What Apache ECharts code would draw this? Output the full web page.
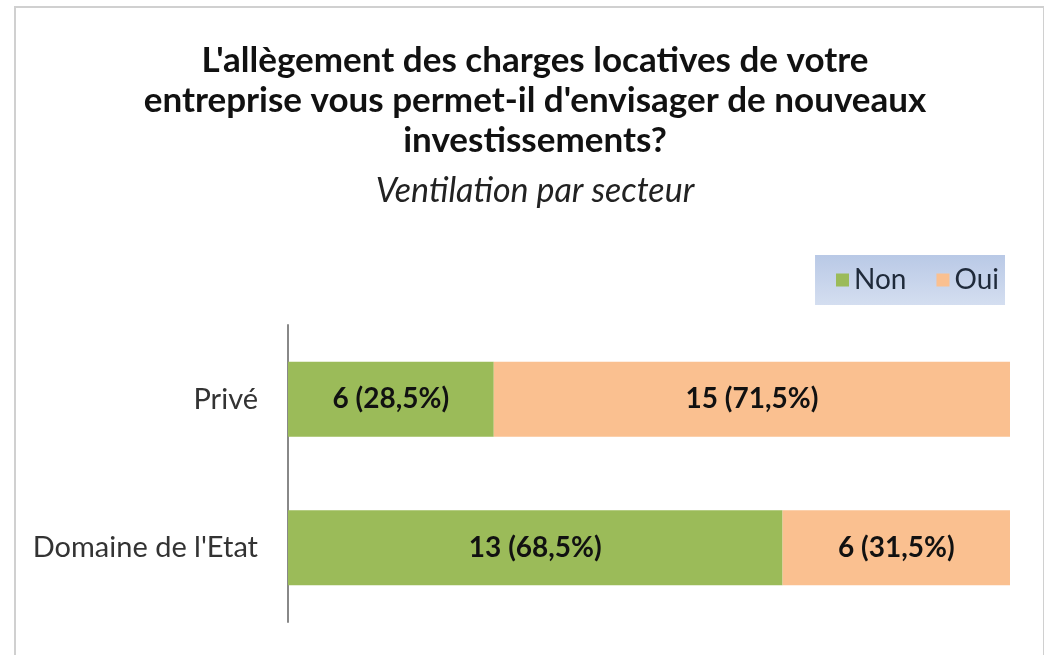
<!DOCTYPE html>
<html>
<head>
<meta charset="utf-8">
<script src="https://cdn.jsdelivr.net/npm/echarts@6/dist/echarts.min.js"></script>
<style>
  html, body { margin: 0; padding: 0; background: #fff; }
  #frame { position: absolute; left: 14px; top: 6px; width: 1027px; height: 700px; border: 2px solid #d0d0d0; }
  #chart { position: absolute; left: 0; top: 0; width: 1044px; height: 655px; }
</style>
</head>
<body>
<div id="frame"></div>
<div id="chart"></div>
<script>
// secteurs
const secteurs = ['Privé', "Domaine de l'Etat"];
// nombre de réponses
const nonCounts = [6, 13];
const ouiCounts = [15, 6];
// pourcentages
const nonPct = [28.5, 68.5];
const ouiPct = [71.5, 31.5];

const chart = echarts.init(document.getElementById('chart'));

function labelFmt(counts, pcts) {
  return (p) => counts[p.dataIndex] + ' (' + String(pcts[p.dataIndex]).replace('.', ',') + '%)';
}

chart.setOption({
  title: {
    text: "L'allègement des charges locatives de votre\nentreprise vous permet-il d'envisager de nouveaux\ninvestissements?",
    subtext: 'Ventilation par secteur',
    left: 530,
    textAlign: 'center',
    top: 36,
    itemGap: 10,
    textStyle: { fontFamily: 'Lato', fontWeight: 'bold', fontSize: 35, lineHeight: 40, color: '#111' },
    subtextStyle: { fontFamily: 'Lato', fontStyle: 'italic', fontSize: 34, lineHeight: 40, color: '#222' }
  },
  legend: {
    data: ['Non', 'Oui'],
    right: 39,
    top: 255,
    padding: [11, 6, 11, 21],
    itemWidth: 13,
    itemHeight: 13,
    itemGap: 30,
    icon: 'rect',
    backgroundColor: {
      type: 'linear', x: 0, y: 0, x2: 0, y2: 1,
      colorStops: [{ offset: 0, color: '#b9c9e6' }, { offset: 1, color: '#d4def0' }]
    },
    textStyle: { fontFamily: 'Lato', fontSize: 28, color: '#1f2a3a', padding: [0, 0, 0, 0] }
  },
  grid: { left: 288, right: 34, top: 325, bottom: 33 },
  xAxis: { type: 'value', min: 0, max: 100, show: false },
  yAxis: {
    type: 'category',
    data: secteurs,
    inverse: true,
    axisLine: { lineStyle: { color: '#888', width: 2 } },
    axisTick: { show: false },
    axisLabel: { fontFamily: 'Lato', fontSize: 29, color: '#333', margin: 30 }
  },
  series: [
    {
      name: 'Non', type: 'bar', stack: 'total', data: nonPct, barWidth: 75,
      itemStyle: { color: '#9bbb59' },
      label: { show: true, position: 'inside', formatter: labelFmt(nonCounts, nonPct),
        fontFamily: 'Lato', fontWeight: 'bold', fontSize: 28, color: '#111' }
    },
    {
      name: 'Oui', type: 'bar', stack: 'total', data: ouiPct, barWidth: 75,
      itemStyle: { color: '#fac090' },
      label: { show: true, position: 'inside', formatter: labelFmt(ouiCounts, ouiPct),
        fontFamily: 'Lato', fontWeight: 'bold', fontSize: 28, color: '#111' }
    }
  ]
});
</script>
</body>
</html>
